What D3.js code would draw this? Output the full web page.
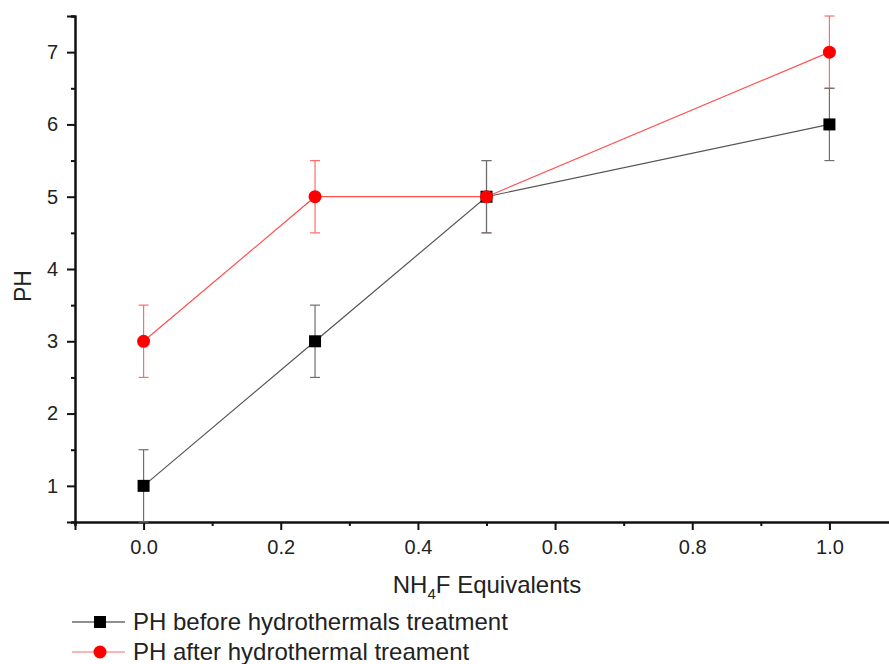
<!DOCTYPE html>
<html>
<head>
<meta charset="utf-8">
<script src="https://cdn.jsdelivr.net/npm/d3@7"></script>
<style>
  body { margin: 0; background: #fff; }
  text { font-family: "Liberation Sans", Arial, sans-serif; fill: #222; }
  .tick text { font-size: 20px; }
</style>
</head>
<body>
<div id="chart"></div>
<script>
// data
const equivalents = [0, 0.25, 0.5, 1.0];
const phBefore = [1, 3, 5, 6];
const phAfter = [3, 5, 5, 7];
const errBefore = [0.5, 0.5, 0.5, 0.5];
const errAfter = [0.5, 0.5, 0.5, 0.5];
const xTicks = [0, 0.2, 0.4, 0.6, 0.8, 1.0];
const yTicks = [1, 2, 3, 4, 5, 6, 7];
const seriesNames = ["PH before hydrothermals treatment", "PH after hydrothermal treament"];

const width = 889, height = 664;
const margin = { left: 75, top: 16, bottom: 142 };

const svg = d3.select("#chart").append("svg")
  .attr("width", width)
  .attr("height", height);

const x = d3.scaleLinear().domain([-0.1, 1.1]).range([margin.left, 898]);
const y = d3.scaleLinear().domain([0.5, 7.5]).range([height - margin.bottom, margin.top]);

// axes, major + minor ticks
svg.append("g")
  .attr("transform", `translate(0,${y(0.5)})`)
  .call(d3.axisBottom(x).tickValues(xTicks).tickFormat(d3.format(".1f")).tickSize(8).tickPadding(10));
svg.append("g")
  .attr("transform", `translate(0,${y(0.5)})`)
  .call(d3.axisBottom(x).tickValues(d3.range(-0.1, 1.15, 0.2)).tickFormat("").tickSize(4));

svg.append("g")
  .attr("transform", `translate(${margin.left},0)`)
  .call(d3.axisLeft(y).tickValues(yTicks).tickFormat(d3.format("d")).tickSize(8).tickPadding(9));
svg.append("g")
  .attr("transform", `translate(${margin.left},0)`)
  .call(d3.axisLeft(y).tickValues(d3.range(0.5, 7.6, 1)).tickFormat("").tickSize(4));

svg.selectAll(".domain").attr("stroke", "#111").attr("stroke-width", 2);
svg.selectAll(".tick line").attr("stroke", "#111").attr("stroke-width", 2);
svg.selectAll("g").attr("font-size", 20).attr("font-family", null);
svg.selectAll(".tick text").attr("font-size", 20).attr("fill", "#222");

// axis titles
const xt = svg.append("text")
  .attr("x", 487).attr("y", 593)
  .attr("text-anchor", "middle")
  .style("font-size", "24px");
xt.append("tspan").text("NH");
xt.append("tspan").text("4").style("font-size", "15px").attr("dy", 6);
xt.append("tspan").text("F Equivalents").attr("dy", -6);

svg.append("text")
  .attr("transform", `translate(31,${y(4) + 17}) rotate(-90)`)
  .attr("text-anchor", "middle")
  .style("font-size", "23px")
  .text("PH");

const line = d3.line().x((d, i) => x(equivalents[i])).y(d => y(d));

function drawErrors(vals, errs, color) {
  const g = svg.append("g").attr("stroke", color).attr("stroke-width", 1.2);
  vals.forEach((v, i) => {
    const cx = x(equivalents[i]);
    g.append("line").attr("x1", cx).attr("x2", cx).attr("y1", y(v - errs[i])).attr("y2", y(v + errs[i]));
    [v - errs[i], v + errs[i]].forEach(e => {
      g.append("line").attr("x1", cx - 5).attr("x2", cx + 5).attr("y1", y(e)).attr("y2", y(e));
    });
  });
}

// after series lines and errors
drawErrors(phAfter, errAfter, "#ff6b6b");
svg.append("path").datum(phAfter).attr("d", line)
  .attr("fill", "none").attr("stroke", "#ff5050").attr("stroke-width", 1.2);

// before series lines and errors
drawErrors(phBefore, errBefore, "#6e6e6e");
svg.append("path").datum(phBefore).attr("d", line)
  .attr("fill", "none").attr("stroke", "#555").attr("stroke-width", 1.2);

// markers
svg.append("g").selectAll("rect").data(phBefore).join("rect")
  .attr("x", (d, i) => x(equivalents[i]) - 6)
  .attr("y", d => y(d) - 6)
  .attr("width", 12).attr("height", 12)
  .attr("fill", "#000");
svg.append("g").selectAll("circle").data(phAfter).join("circle")
  .attr("cx", (d, i) => x(equivalents[i]))
  .attr("cy", d => y(d))
  .attr("r", 6.5)
  .attr("fill", "#ff0000");

// legend
const legend = svg.append("g");
[0, 1].forEach(k => {
  const ly = 622 + k * 30;
  legend.append("line").attr("x1", 72).attr("x2", 125).attr("y1", ly).attr("y2", ly)
    .attr("stroke", k === 0 ? "#222" : "#ff6b6b").attr("stroke-width", 1.2);
  if (k === 0) {
    legend.append("rect").attr("x", 94).attr("y", ly - 6).attr("width", 12).attr("height", 12).attr("fill", "#000");
  } else {
    legend.append("circle").attr("cx", 100).attr("cy", ly).attr("r", 6.5).attr("fill", "#ff0000");
  }
  legend.append("text").attr("x", 133).attr("y", ly + 8)
    .style("font-size", "24px").text(seriesNames[k]);
});
</script>
</body>
</html>
